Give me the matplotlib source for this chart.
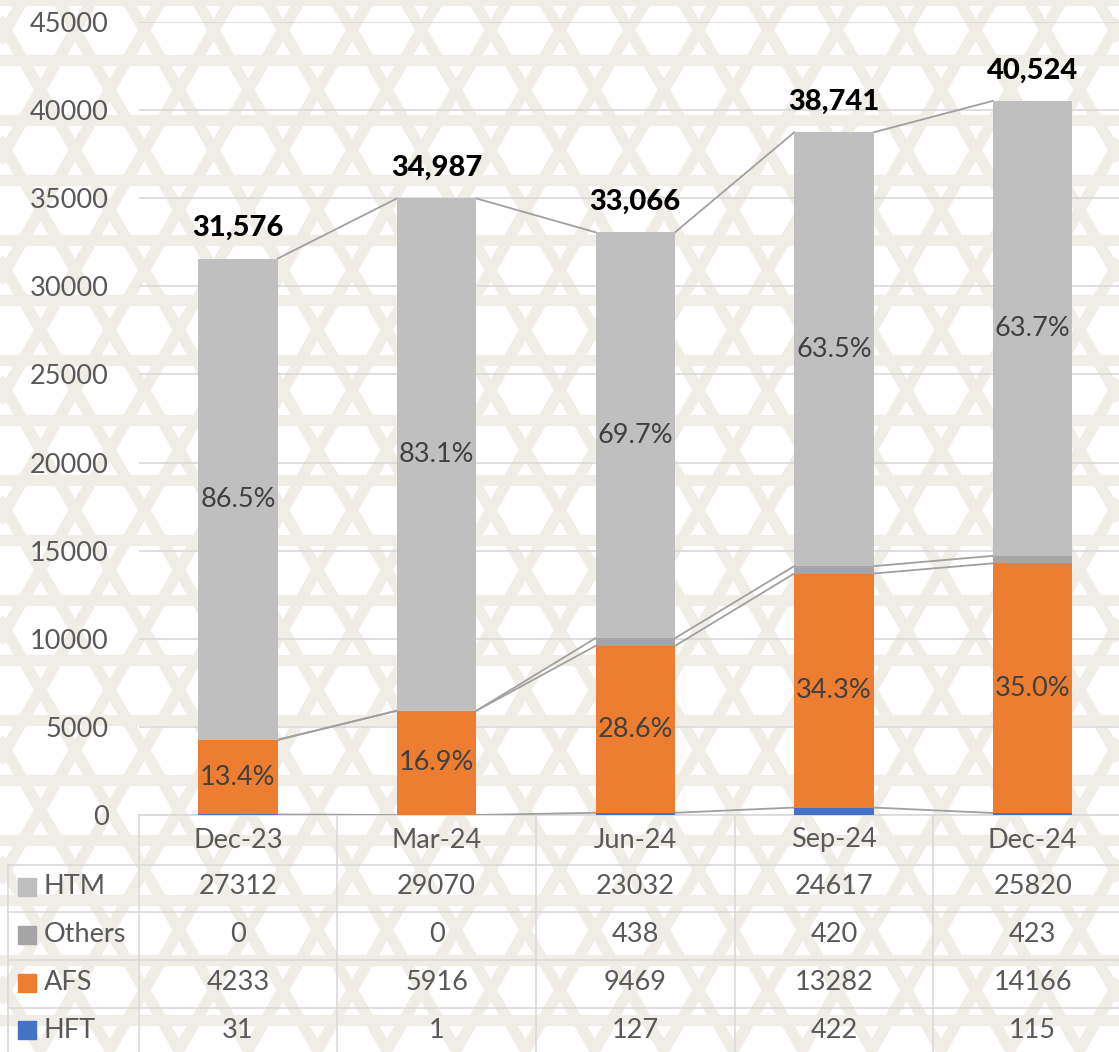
import numpy as np
import matplotlib
matplotlib.use("Agg")
import matplotlib.pyplot as plt
from matplotlib.transforms import blended_transform_factory
from matplotlib.patches import Rectangle

plt.rcParams['font.family'] = ['Lato', 'DejaVu Sans']

# ---- data ----
categories = ["Dec-23", "Mar-24", "Jun-24", "Sep-24", "Dec-24"]
hft = [31, 1, 127, 422, 115]
afs = [4233, 5916, 9469, 13282, 14166]
others = [0, 0, 438, 420, 423]
htm = [27312, 29070, 23032, 24617, 25820]

series_names = ["HTM", "Others", "AFS", "HFT"]
colors = {"HTM": "#BFBFBF", "Others": "#A5A5A5", "AFS": "#ED7D31", "HFT": "#4472C4"}

W, H = 1119, 1052
fig = plt.figure(figsize=(W / 100, H / 100), dpi=100)

# ---- textured backdrop: beige lattice on white ----
bg = fig.add_axes([0, 0, 1, 1], zorder=0)
bg.set_xlim(0, W)
bg.set_ylim(H, 0)
bg.axis("off")
bg.add_patch(Rectangle((0, 0), W, H, color="white", zorder=0))
lat_col = "#F0EDE6"
period = 60
for ang, off in [(0, 0), (60, 10), (-60, 20)]:
    t = np.deg2rad(ang)
    d = np.array([np.cos(t), np.sin(t)])
    n = np.array([-np.sin(t), np.cos(t)])
    for c in np.arange(-1800, 1800, period) + off:
        p0 = n * c
        pts = np.array([p0 - d * 2200, p0 + d * 2200])
        bg.plot(pts[:, 0], pts[:, 1], color=lat_col, lw=8, solid_capstyle="butt", zorder=1)

# ---- main chart ----
left_px, right_px, top_px, base_px = 138.6, 1132.0, 22.0, 815.0
ax = fig.add_axes([left_px / W, (H - base_px) / H, (right_px - left_px) / W, (base_px - top_px) / H], zorder=2)
ax.set_facecolor("none")
ax.set_xlim(-0.5, 4.5)
ax.set_ylim(0, 45000)
ax.set_yticks(np.arange(0, 45001, 5000))
ax.tick_params(axis="y", length=0, pad=21.5, labelsize=19.5, labelcolor="#595959")
ax.set_xticks([])
for s in ax.spines.values():
    s.set_visible(False)
ax.grid(axis="y", color="#D9D9D9", lw=1.2)
ax.set_axisbelow(True)

x = np.arange(len(categories))
bw = 0.40
stack = [("HFT", hft), ("AFS", afs), ("Others", others), ("HTM", htm)]
bottom = np.zeros(len(categories))
tops = []
for name, vals in stack:
    vals = np.array(vals, dtype=float)
    ax.bar(x, vals, bw, bottom=bottom, color=colors[name], zorder=3)
    bottom = bottom + vals
    tops.append(bottom.copy())
totals = bottom

# series lines between adjacent columns
for lvl in tops:
    for i in range(len(categories) - 1):
        ax.plot([x[i] + bw / 2, x[i + 1] - bw / 2], [lvl[i], lvl[i + 1]],
                color="#A0A0A0", lw=1.3, zorder=2.5)

# percentage labels
afs_a, htm_a, hft_a, oth_a = map(np.array, (afs, htm, hft, others))
for i in range(len(categories)):
    ax.text(x[i], hft_a[i] + afs_a[i] / 2, f"{afs_a[i] / totals[i] * 100:.1f}%",
            ha="center", va="center", fontsize=19.5, color="#404040", zorder=5)
    ax.text(x[i], hft_a[i] + afs_a[i] + oth_a[i] + htm_a[i] / 2, f"{htm_a[i] / totals[i] * 100:.1f}%",
            ha="center", va="center", fontsize=19.5, color="#404040", zorder=5)
    ax.annotate(f"{int(totals[i]):,}", (x[i], totals[i]), xytext=(0, 22), textcoords="offset points",
                ha="center", va="center", fontsize=21, fontweight="black", color="black", zorder=5)

# ---- data table under the chart ----
tr = blended_transform_factory(ax.transData, bg.transData)
line_kw = dict(color="#D9D9D9", lw=1.2, zorder=3)
row_lines = [865, 912, 960, 1008]
row_centers = [887, 935, 983, 1030]
header_y = 840

bg.plot([left_px, W], [base_px, base_px], **line_kw)
for yl in row_lines:
    bg.plot([8, W], [yl, yl], **line_kw)
bg.plot([8, 8], [row_lines[0], H], **line_kw)
for b in np.arange(-0.5, len(categories), 1.0):
    bg.plot([b, b], [base_px, H], transform=tr, **line_kw)

for i, c in enumerate(categories):
    bg.text(x[i], header_y, c, transform=tr, ha="center", va="center",
            fontsize=19.5, color="#595959", zorder=4)

table_rows = {"HTM": htm, "Others": others, "AFS": afs, "HFT": hft}
for name, yc in zip(series_names, row_centers):
    bg.add_patch(Rectangle((18, yc - 9), 18, 18, color=colors[name], zorder=4))
    bg.text(44, yc, name, ha="left", va="center", fontsize=19.5, color="#595959", zorder=4)
    for i, v in enumerate(table_rows[name]):
        bg.text(x[i], yc, str(v), transform=tr, ha="center", va="center",
                fontsize=19.5, color="#595959", zorder=4)

fig.savefig("out.png", dpi=100)
